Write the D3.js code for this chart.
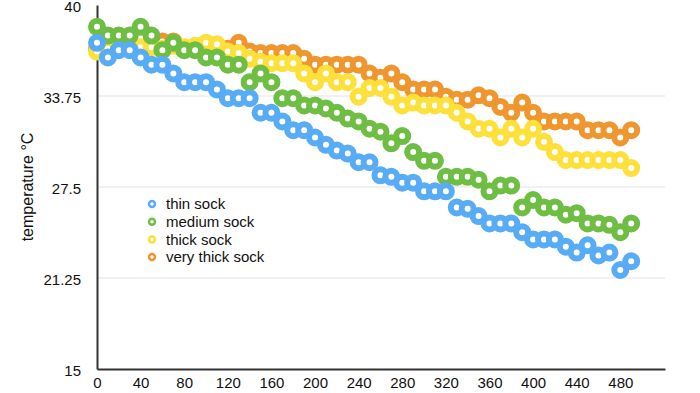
<!DOCTYPE html>
<html>
<head>
<meta charset="utf-8">
<script src="https://cdn.jsdelivr.net/npm/d3@7"></script>
<style>
  body { margin: 0; background: #fff; }
  text { font-family: "Liberation Sans", Arial, Helvetica, sans-serif; fill: #111; }
</style>
</head>
<body>
<svg id="vis" width="700" height="393"></svg>
<script>
// time values (x axis)
var times = [0, 10, 20, 30, 40, 50, 60, 70, 80, 90,
  100, 110, 120, 130, 140, 150, 160, 170, 180, 190,
  200, 210, 220, 230, 240, 250, 260, 270, 280, 290,
  300, 310, 320, 330, 340, 350, 360, 370, 380, 390,
  400, 410, 420, 430, 440, 450, 460, 470, 480, 490];

var thinSock = [37.4, 36.4, 36.9, 36.9, 36.4, 35.9, 35.9, 35.3, 34.7, 34.7,
  34.7, 34.2, 33.6, 33.6, 33.6, 32.6, 32.6, 32.0, 31.4, 31.4,
  30.9, 30.4, 30.0, 29.8, 29.2, 29.2, 28.3, 28.2, 27.8, 27.8,
  27.2, 27.2, 27.2, 26.1, 26.0, 25.5, 25.0, 25.0, 25.0, 24.4,
  23.9, 23.9, 23.9, 23.4, 23.0, 23.5, 22.8, 23.0, 21.8, 22.4];

var mediumSock = [38.5, 37.9, 37.9, 37.9, 38.5, 37.9, 36.9, 37.4, 36.9, 36.9,
  36.4, 36.4, 35.9, 35.9, 34.7, 35.3, 34.7, 33.6, 33.6, 33.1,
  33.1, 32.9, 32.6, 32.2, 32.0, 31.5, 31.3, 30.5, 31.0, 29.9,
  29.3, 29.3, 28.2, 28.2, 28.2, 28.0, 27.2, 27.6, 27.6, 26.1,
  26.6, 26.1, 26.1, 25.6, 25.7, 25.0, 25.0, 24.9, 24.4, 25.0];

var thickSock = [36.8, 37.0, 37.2, 37.2, 37.1, 37.1, 37.0, 37.2, 37.1, 37.2,
  37.4, 37.3, 36.8, 36.7, 36.3, 36.1, 36.0, 36.0, 36.0, 35.3,
  34.7, 35.3, 34.7, 34.7, 33.7, 34.3, 34.3, 33.7, 33.1, 33.3,
  33.1, 33.1, 33.1, 32.6, 32.0, 31.5, 31.5, 30.9, 31.5, 30.9,
  31.5, 30.6, 29.9, 29.35, 29.35, 29.35, 29.35, 29.35, 29.35, 28.8];

var veryThickSock = [37.0, 37.0, 37.1, 37.1, 37.0, 37.5, 37.5, 37.5, 37.0, 37.0,
  37.0, 37.0, 37.0, 37.4, 36.8, 36.7, 36.7, 36.7, 36.7, 36.3,
  35.9, 35.9, 35.9, 35.9, 35.9, 35.3, 35.0, 35.3, 34.7, 34.2,
  34.2, 34.2, 33.7, 33.5, 33.5, 33.8, 33.6, 33.0, 32.6, 33.3,
  32.6, 32.0, 32.0, 32.0, 32.0, 31.4, 31.4, 31.4, 30.9, 31.4];

var seriesNames = ["thin sock", "medium sock", "thick sock", "very thick sock"];
var seriesColors = ["#58acf5", "#6fbe44", "#fde03a", "#ef962f"];
var yTicks = [15, 21.25, 27.5, 33.75, 40];
var xTicks = [0, 40, 80, 120, 160, 200, 240, 280, 320, 360, 400, 440, 480];

var allSeries = [thinSock, mediumSock, thickSock, veryThickSock];

var svg = d3.select("#vis");

var x = d3.scaleLinear().domain([0, 521]).range([97, 665]);
var y = d3.scaleLinear().domain([15, 40]).range([369, 5]);

// gridlines
svg.append("g")
    .selectAll("line")
    .data(yTicks.filter(function(d) { return d > 15 && d < 40; }))
    .enter().append("line")
      .attr("x1", x(0))
      .attr("x2", x(521))
      .attr("y1", function(d) { return y(d); })
      .attr("y2", function(d) { return y(d); })
      .attr("stroke", "#e3e3e3")
      .attr("stroke-width", 1);

// axes
var yAxis = svg.append("g")
    .attr("transform", "translate(" + x(0) + ",0)")
    .call(d3.axisLeft(y).tickValues(yTicks).tickSize(0).tickPadding(16)
      .tickFormat(function(d) { return String(d); }));
yAxis.select(".domain").attr("stroke", "#333").attr("stroke-width", 2);
yAxis.selectAll("text").style("font-size", "15px").attr("fill", "#111")
    .attr("dy", "0.45em");

var xAxis = svg.append("g")
    .attr("transform", "translate(0," + y(15) + ")")
    .call(d3.axisBottom(x).tickValues(xTicks).tickSize(0).tickPadding(8));
xAxis.select(".domain").attr("stroke", "#333").attr("stroke-width", 2);
xAxis.selectAll("text").style("font-size", "15px").attr("fill", "#111");

svg.append("text")
    .attr("transform", "translate(33," + y(27.5) + ") rotate(-90)")
    .attr("text-anchor", "middle")
    .style("font-size", "16px")
    .text("temperature °C");

// points, drawn so that thin sock ends on top
for (var s = allSeries.length - 1; s >= 0; s--) {
  var pts = times.map(function(t, i) { return {t: t, v: allSeries[s][i]}; });
  svg.append("g")
      .selectAll("circle")
      .data(pts)
      .enter().append("circle")
        .attr("cx", function(d) { return x(d.t); })
        .attr("cy", function(d) { return y(d.v); })
        .attr("r", 6)
        .attr("fill", "#fff")
        .attr("stroke", seriesColors[s])
        .attr("stroke-width", 6);
}

// legend
var legend = svg.append("g")
    .selectAll("g")
    .data(seriesNames)
    .enter().append("g")
      .attr("transform", function(d, i) { return "translate(152," + (204 + i * 17.7) + ")"; });

legend.append("circle")
    .attr("r", 3)
    .attr("fill", "#fff")
    .attr("stroke", function(d, i) { return seriesColors[i]; })
    .attr("stroke-width", 2.5);

legend.append("text")
    .attr("x", 14)
    .attr("dy", "0.35em")
    .style("font-size", "15px")
    .text(function(d) { return d; });
</script>
</body>
</html>
